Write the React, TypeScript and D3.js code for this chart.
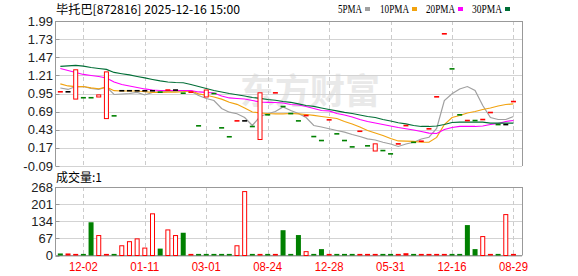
import React from 'react';
import * as d3 from 'd3';

const titleText = '毕托巴[872816] 2025-12-16 15:00';
const volTitle = '成交量:1';
const watermark = '东方财富';

const xTickIdx = [3, 11, 19, 27, 35, 43, 51, 59];
const xTickLabels = ['12-02', '01-11', '03-01', '08-24', '12-28', '05-31', '12-16', '08-29'];
const priceTicks = [1.99, 1.73, 1.47, 1.21, 0.95, 0.69, 0.43, 0.17, -0.09];
const volTicks = [268, 201, 134, 67, 0];

const opens = [0.975, 0.975, 0.87, 0.89, 0.89, 0.90, 0.59, 0.63, 0.99, 0.99, 0.99, 0.99, 0.99, 0.97, 1.0, 1.0, 0.955, 0.97, 0.487, 0.90, 0.95, 0.458, 0.33, 0.558, 0.558, 0.477, 0.29, 0.645, 0.96, 0.764, 0.663, 0.558, 0.634, 0.333, 0.276, 0.573, 0.372, 0.276, 0.185, 0.409, 0.20, 0.125, 0.132, 0.085, 0.228, 0.49, 0.25, 0.266, 0.444, 0.903, 1.807, 1.304, 0.645, 0.563, 0.563, 0.577, 0.678, 0.505, 0.505, 0.835];
const closes = [0.975, 0.975, 1.29, 0.89, 0.89, 0.93, 1.26, 0.63, 0.99, 0.99, 0.99, 0.99, 0.99, 0.97, 1.0, 1.0, 0.955, 0.97, 0.487, 1.0, 0.95, 0.458, 0.33, 0.558, 0.558, 0.477, 0.96, 0.645, 0.96, 0.764, 0.663, 0.558, 0.634, 0.333, 0.276, 0.573, 0.372, 0.276, 0.185, 0.409, 0.20, 0.228, 0.132, 0.085, 0.228, 0.49, 0.25, 0.266, 0.444, 0.903, 1.807, 1.304, 0.645, 0.563, 0.563, 0.577, 0.678, 0.505, 0.505, 0.835];
const candleTags = ['r', 'k', 'r', 'g', 'g', 'r', 'r', 'g', 'k', 'k', 'k', 'k', 'k', 'g', 'r', 'k', 'g', 'r', 'g', 'r', 'g', 'g', 'g', 'r', 'k', 'g', 'r', 'g', 'r', 'g', 'g', 'g', 'r', 'g', 'g', 'r', 'g', 'g', 'g', 'r', 'g', 'r', 'g', 'g', 'r', 'r', 'g', 'r', 'r', 'r', 'r', 'g', 'g', 'r', 'g', 'r', 'r', 'g', 'k', 'r'];

const volumes = [8, 8, 2, 2, 130, 80, 2, 2, 40, 56, 67, 31, 165, 27, 102, 80, 89, 2, 2, 2, 2, 2, 2, 40, 252, 2, 2, 2, 2, 99, 2, 80, 17, 2, 25, 2, 2, 2, 2, 2, 2, 2, 2, 2, 2, 9, 2, 2, 2, 2, 2, 2, 6, 119, 25, 76, 2, 2, 162, 1];
const volTags = ['g', 'r', 'r', 'g', 'g', 'r', 'r', 'g', 'r', 'r', 'r', 'r', 'r', 'g', 'r', 'r', 'g', 'r', 'g', 'g', 'g', 'g', 'g', 'r', 'r', 'g', 'r', 'g', 'r', 'g', 'g', 'g', 'r', 'g', 'g', 'r', 'g', 'g', 'g', 'r', 'r', 'r', 'g', 'g', 'r', 'r', 'g', 'r', 'r', 'r', 'r', 'g', 'g', 'g', 'g', 'r', 'r', 'g', 'r', 'r'];

const ma5 = [1.029, 1.008, 1.05, 1.05, 1.022, 1.008, 1.043, 0.936, 0.943, 0.95, 0.965, 0.929, 0.965, 0.972, 0.979, 0.983, 0.983, 0.983, 0.921, 0.878, 0.85, 0.735, 0.682, 0.659, 0.606, 0.491, 0.62, 0.659, 0.692, 0.756, 0.706, 0.663, 0.606, 0.491, 0.47, 0.444, 0.419, 0.395, 0.362, 0.333, 0.30, 0.283, 0.251, 0.226, 0.19, 0.226, 0.251, 0.297, 0.323, 0.448, 0.85, 0.946, 1.015, 1.05, 0.993, 0.778, 0.606, 0.577, 0.577, 0.62];
const ma10 = [1.089, 1.058, 1.05, 1.05, 1.03, 1.018, 1.04, 0.99, 0.986, 0.986, 0.986, 0.975, 0.965, 0.967, 0.969, 0.969, 0.975, 0.99, 0.945, 0.925, 0.90, 0.87, 0.825, 0.795, 0.742, 0.685, 0.67, 0.663, 0.659, 0.659, 0.663, 0.659, 0.649, 0.635, 0.62, 0.606, 0.591, 0.548, 0.513, 0.47, 0.419, 0.383, 0.348, 0.305, 0.269, 0.266, 0.262, 0.251, 0.251, 0.32, 0.505, 0.606, 0.635, 0.67, 0.692, 0.72, 0.742, 0.771, 0.792, 0.80];
const ma20 = [1.309, 1.28, 1.251, 1.223, 1.208, 1.194, 1.173, 1.115, 1.079, 1.058, 1.036, 1.015, 1.0, 0.993, 0.993, 0.993, 0.993, 0.993, 0.972, 0.965, 0.957, 0.914, 0.886, 0.878, 0.871, 0.85, 0.828, 0.824, 0.821, 0.814, 0.792, 0.785, 0.764, 0.735, 0.706, 0.70, 0.663, 0.642, 0.613, 0.577, 0.548, 0.527, 0.505, 0.484, 0.462, 0.444, 0.426, 0.405, 0.381, 0.376, 0.434, 0.462, 0.477, 0.477, 0.477, 0.484, 0.505, 0.52, 0.548, 0.563];
const ma30 = [1.338, 1.345, 1.352, 1.342, 1.323, 1.309, 1.295, 1.252, 1.233, 1.216, 1.194, 1.173, 1.151, 1.13, 1.115, 1.108, 1.104, 1.079, 1.05, 1.022, 0.993, 0.972, 0.95, 0.932, 0.914, 0.893, 0.881, 0.864, 0.853, 0.835, 0.824, 0.80, 0.778, 0.764, 0.742, 0.72, 0.70, 0.68, 0.663, 0.642, 0.62, 0.606, 0.577, 0.556, 0.53, 0.513, 0.491, 0.477, 0.477, 0.484, 0.505, 0.534, 0.538, 0.538, 0.538, 0.538, 0.524, 0.524, 0.524, 0.524];

const maNames = ['5PMA', '10PMA', '20PMA', '30PMA'];
const maSeries = [ma5, ma10, ma20, ma30];
const maColors = ['#a0a0a0', '#f2a30f', '#ff00ff', '#006e36'];
const legendX = [338, 380, 426, 472];
const legendW = [24, 29, 29, 30];

const RED = '#ff0000';
const GREEN = '#008000';

export default function App() {
  const n = opens.length;
  const step = 7.68;
  const left = 55.5;
  const right = 522;
  const x = d3.scaleBand<number>().domain(d3.range(n)).range([56.5, 56.5 + step * n]);
  const cx = (i: number) => (x(i) as number) + x.bandwidth() / 2;
  const y = d3.scaleLinear().domain([-0.09, 1.99]).range([166, 21]);
  const yv = d3.scaleLinear().domain([0, 268]).range([255.5, 187]);
  const bw = 5;

  const line = d3.line<number>().x((_, i) => cx(i)).y((d) => y(d));

  const pTop = 21, pBot = 166, vTop = 187, vBot = 255.5;

  return (
    <svg width={578} height={276} style={{ position: 'absolute', left: 0, top: 0, background: '#fff' }}>
      <rect x={0} y={0} width={578} height={276} fill="#fff" />
      {/* watermark */}
      <text x={240} y={104} fontFamily="Noto Sans CJK SC" fontWeight={700} fontSize={35} fill="#e9e9e9" textLength={140} lengthAdjust="spacingAndGlyphs">{watermark}</text>

      {/* price grid */}
      {priceTicks.map((t, k) => (
        <line key={'pg' + k} x1={left} x2={right} y1={Math.round(y(t)) + 0.5} y2={Math.round(y(t)) + 0.5} stroke="#d3d3d3" strokeWidth={1} />
      ))}
      {volTicks.map((t, k) => (
        <line key={'vg' + k} x1={left} x2={right} y1={Math.round(yv(t)) + 0.5} y2={Math.round(yv(t)) + 0.5} stroke="#d3d3d3" strokeWidth={1} />
      ))}
      {xTickIdx.map((i, k) => (
        <g key={'xd' + k}>
          <line x1={Math.round(cx(i)) + 0.5} x2={Math.round(cx(i)) + 0.5} y1={pTop} y2={pBot} stroke="#cccccc" strokeDasharray="4,3" />
          <line x1={Math.round(cx(i)) + 0.5} x2={Math.round(cx(i)) + 0.5} y1={vTop} y2={vBot} stroke="#cccccc" strokeDasharray="4,3" />
        </g>
      ))}
      {/* frames */}
      <line x1={left} x2={right} y1={pTop + 0.5} y2={pTop + 0.5} stroke="#999" />
      <line x1={right + 0.5} x2={right + 0.5} y1={pTop} y2={pBot} stroke="#999" />
      <line x1={left} x2={left} y1={pTop} y2={pBot} stroke="#999" />
      <line x1={left} x2={right} y1={vTop + 0.5} y2={vTop + 0.5} stroke="#999" />
      <line x1={left} x2={right} y1={vBot} y2={vBot} stroke="#999" />
      <line x1={right + 0.5} x2={right + 0.5} y1={vTop} y2={vBot} stroke="#999" />
      <line x1={left} x2={left} y1={vTop} y2={vBot} stroke="#999" />

      {/* y labels */}
      {priceTicks.map((t, k) => (
        <g key={'pl' + k}>
          <line x1={left} x2={left + 4} y1={Math.round(y(t)) + 0.5} y2={Math.round(y(t)) + 0.5} stroke="#999" />
          <text x={53} y={y(t) + 4.5} textAnchor="end" fontFamily="Liberation Sans, Arial, sans-serif" fontSize={13} fill="#222">{t.toFixed(2)}</text>
        </g>
      ))}
      {volTicks.map((t, k) => (
        <g key={'vl' + k}>
          <line x1={left} x2={left + 4} y1={Math.round(yv(t)) + 0.5} y2={Math.round(yv(t)) + 0.5} stroke="#999" />
          <text x={53} y={yv(t) + 4.5} textAnchor="end" fontFamily="Liberation Sans, Arial, sans-serif" fontSize={13} fill="#222">{t}</text>
        </g>
      ))}

      {/* moving averages */}
      {maSeries.map((s, k) => (
        <path key={'ma' + k} d={line(s) || ''} fill="none" stroke={maColors[k]} strokeWidth={1.2} />
      ))}

      {/* candles */}
      {opens.map((o, i) => {
        const c = closes[i];
        const tag = candleTags[i];
        const col = tag === 'r' ? RED : tag === 'g' ? GREEN : '#000';
        const xc = cx(i);
        if (Math.abs(c - o) < 1e-9) {
          return <rect key={'c' + i} x={xc - bw / 2} y={y(c) - 0.75} width={bw} height={1.6} fill={col} />;
        }
        const top = y(Math.max(o, c));
        const bot = y(Math.min(o, c));
        if (c > o) {
          return <rect key={'c' + i} x={xc - bw / 2 + 0.5} y={top} width={bw - 1} height={Math.max(1, bot - top)} fill="#fff" stroke={col} strokeWidth={1} />;
        }
        return <rect key={'c' + i} x={xc - bw / 2} y={top} width={bw} height={Math.max(1, bot - top)} fill={col} />;
      })}

      {/* volume */}
      {volumes.map((v, i) => {
        const xc = cx(i);
        const h = Math.max(1.6, vBot - yv(v));
        const col = volTags[i] === 'r' ? RED : GREEN;
        if (volTags[i] === 'r' && h > 3) {
          return <rect key={'v' + i} x={xc - bw / 2 + 0.5} y={vBot - h + 0.5} width={bw - 1} height={h - 0.5} fill="#fff" stroke={col} strokeWidth={1} />;
        }
        return <rect key={'v' + i} x={xc - bw / 2} y={vBot - h} width={bw} height={h} fill={col} />;
      })}

      {/* x labels */}
      {xTickIdx.map((i, k) => (
        <text key={'xl' + k} x={cx(i)} y={271} textAnchor="middle" fontFamily="Liberation Sans, Arial, sans-serif" fontSize={12} fill={RED} textLength={29} lengthAdjust="spacingAndGlyphs">{xTickLabels[k]}</text>
      ))}

      {/* title & legend */}
      <text x={56} y={14} fontFamily="Noto Sans CJK SC" fontSize={12} fill="#000" textLength={184} lengthAdjust="spacingAndGlyphs">{titleText}</text>
      {maNames.map((nm, k) => (
        <g key={'lg' + k}>
          <text x={legendX[k]} y={13} fontFamily="Liberation Serif, serif" fontSize={12} fill="#000" textLength={legendW[k]} lengthAdjust="spacingAndGlyphs">{nm}</text>
          <rect x={legendX[k] + legendW[k] + 3} y={7} width={5} height={4} fill={maColors[k]} />
        </g>
      ))}
      <text x={56} y={182} fontFamily="Noto Sans CJK SC" fontSize={12} fill="#000">{volTitle}</text>
    </svg>
  );
}
